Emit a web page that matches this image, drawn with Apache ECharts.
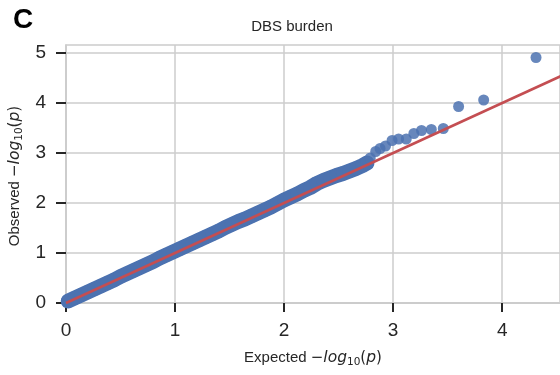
<!DOCTYPE html>
<html>
<head>
<meta charset="utf-8">
<script src="https://cdn.jsdelivr.net/npm/echarts@6/dist/echarts.min.js"></script>
<style>
  html, body { margin: 0; padding: 0; background: #ffffff; }
  #chart { width: 560px; height: 375px; }
</style>
</head>
<body>
<div id="chart"></div>
<script>
// QQ plot of DBS burden test p-values: expected vs observed -log10(p)

// Dense part of the distribution (expected, observed)
const bandExpected = [0.02, 0.08, 0.14, 0.20, 0.26, 0.32, 0.38, 0.44, 0.50, 0.56,
  0.62, 0.68, 0.74, 0.80, 0.86, 0.92, 0.98, 1.04, 1.10, 1.16,
  1.22, 1.28, 1.34, 1.40, 1.46, 1.52, 1.58, 1.64, 1.70, 1.76,
  1.82, 1.88, 1.94, 2.00, 2.06, 2.12, 2.18, 2.24, 2.30, 2.36,
  2.42, 2.48, 2.54, 2.60, 2.66, 2.72, 2.76];
const bandObserved = [0.04, 0.10, 0.16, 0.22, 0.28, 0.34, 0.40, 0.46, 0.53, 0.59,
  0.65, 0.71, 0.77, 0.83, 0.90, 0.96, 1.02, 1.08, 1.14, 1.20,
  1.26, 1.32, 1.38, 1.44, 1.51, 1.57, 1.63, 1.68, 1.74, 1.80,
  1.86, 1.92, 1.99, 2.06, 2.12, 2.18, 2.25, 2.31, 2.39, 2.45,
  2.50, 2.55, 2.59, 2.64, 2.69, 2.75, 2.80];

// Sparse upper tail
const tailExpected = [2.79, 2.84, 2.88, 2.93, 2.99, 3.05, 3.12, 3.19, 3.26, 3.35, 3.46, 3.60, 3.83, 4.31];
const tailObserved = [2.90, 3.03, 3.09, 3.14, 3.25, 3.28, 3.28, 3.39, 3.45, 3.47, 3.49, 3.93, 4.06, 4.91];

// Null reference line y = x
const refLine = [0, 4.6];

const xTicks = [0, 1, 2, 3, 4];
const yTicks = [0, 1, 2, 3, 4, 5];

const FONT = '"Liberation Sans", Arial, sans-serif';
const MATH = '"DejaVu Sans", sans-serif';
const BLUE = '#4C72B0';
const RED = '#C44E52';
const GRIDC = '#cccccc';
const INK = '#262626';

const zip = (a, b) => a.map((v, i) => [v, b[i]]);

const chart = echarts.init(document.getElementById('chart'), null, { renderer: 'canvas' });

// Axis titles with -log10(p) typeset as rich text
const labelRich = {
  n: { fontFamily: FONT, fontSize: 15, fill: INK, color: INK },
  m: { fontFamily: MATH, fontSize: 15, fill: INK, color: INK },
  i: { fontFamily: MATH, fontSize: 15.5, fill: INK, color: INK, fontStyle: 'italic' },
  s: { fontFamily: MATH, fontSize: 10.5, fill: INK, color: INK, padding: [8, 0, 0, 0] }
};
const axisTitle = word => '{n|' + word + ' }{m|−}{i|log}{s|10}{m|(}{i|p}{m|)}';

chart.setOption({
  animation: false,
  backgroundColor: '#ffffff',
  grid: { left: 66, right: -2, top: 45, bottom: 72, show: true, borderColor: GRIDC, borderWidth: 1.5, backgroundColor: 'transparent' },
  xAxis: {
    type: 'value', min: 0, max: 4.53, interval: 1,
    axisLine: { show: true, lineStyle: { color: GRIDC, width: 1.5 } },
    axisTick: { show: true, length: 9, customValues: xTicks, lineStyle: { color: INK, width: 2 } },
    axisLabel: { fontFamily: FONT, fontSize: 19, color: INK, margin: 18, customValues: xTicks },
    splitLine: { show: true, lineStyle: { color: GRIDC, width: 1.5 } }
  },
  yAxis: {
    type: 'value', min: 0, max: 5.16, interval: 1,
    axisLine: { show: true, lineStyle: { color: GRIDC, width: 1.5 } },
    axisTick: { show: true, length: 10, customValues: yTicks, lineStyle: { color: INK, width: 2 } },
    axisLabel: { fontFamily: FONT, fontSize: 19, color: INK, margin: 20, customValues: yTicks },
    splitLine: { show: true, lineStyle: { color: GRIDC, width: 1.5 } }
  },
  graphic: [
    { type: 'text', left: 13, top: 6, style: { text: 'C', font: 'bold 28px ' + FONT, fill: '#000000' } },
    { type: 'text', x: 292, y: 19, style: { text: 'DBS burden', font: '15px ' + FONT, fill: INK, textAlign: 'center' } },
    { type: 'text', x: 313, y: 358,
      style: { text: axisTitle('Expected'), rich: labelRich, fill: INK, align: 'center', verticalAlign: 'middle' } },
    { type: 'text', x: 15, y: 176, rotation: Math.PI / 2,
      style: { text: axisTitle('Observed'), rich: labelRich, fill: INK, align: 'center', verticalAlign: 'middle' } }
  ],
  series: [
    {
      // overlapping markers of the dense part merge into a solid ribbon
      type: 'line', data: zip(bandExpected, bandObserved), showSymbol: false, symbol: 'none',
      lineStyle: { color: BLUE, width: 15, cap: 'round', join: 'round' }, z: 1, silent: true
    },
    {
      type: 'scatter', data: zip(bandExpected, bandObserved), symbolSize: 14,
      itemStyle: { color: BLUE, opacity: 1 }, clip: false, z: 2
    },
    {
      type: 'scatter', data: zip(tailExpected, tailObserved), symbolSize: 11,
      itemStyle: { color: BLUE, opacity: 0.85 }, clip: false, z: 2
    },
    {
      type: 'line', data: zip(refLine, refLine), showSymbol: false, symbol: 'none',
      lineStyle: { color: RED, width: 2.5 }, z: 3, silent: true
    }
  ]
});
</script>
</body>
</html>
